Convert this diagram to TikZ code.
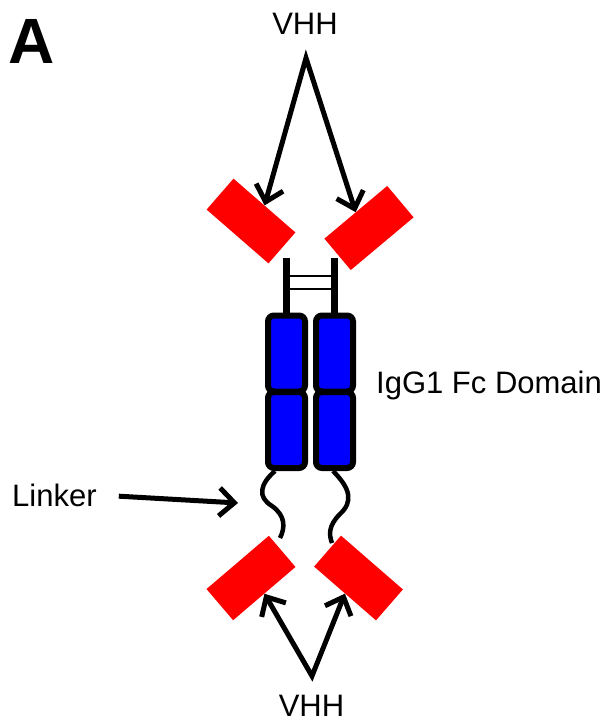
\documentclass[tikz,border=0pt]{standalone}
\usepackage{fontspec}
\setmainfont{Liberation Sans}
\usetikzlibrary{arrows.meta,positioning}
\definecolor{vhhred}{RGB}{255,0,0}
\definecolor{fcblue}{RGB}{0,0,255}

\begin{document}
\begin{tikzpicture}[x=1pt,y=-1pt,on grid]
	\tikzstyle{vhh}=[fill=vhhred,rectangle,minimum width=82pt,minimum height=41pt,inner sep=0pt]
	\tikzstyle{fc}=[fill=fcblue,draw=black,line width=6pt,rectangle,rounded corners=6pt,minimum width=37pt,minimum height=76pt,inner sep=0pt]
	\tikzstyle{textlabel}=[font=\fontsize{31}{36}\selectfont,inner sep=0pt]
	\tikzstyle{pointer}=[line width=5pt,>={Straight Barb[length=15pt,width=28pt]}]
	\tikzstyle{hinge}=[line width=7pt]
	\tikzstyle{bridge}=[line width=1.5pt]
	\tikzstyle{linker}=[line width=4.5pt]

	\useasboundingbox (0,0) rectangle (611,723);

	%
	% labels
	%
	\node [font=\bfseries\fontsize{64}{70}\selectfont,inner sep=0pt,anchor=base west] (panel) at (8,63) {A};
	\node [textlabel,anchor=base] (vhhTop) at (305,34) {VHH};
	\node [textlabel,anchor=base] (vhhBot) at (311.5,716) {VHH};
	\node [textlabel,anchor=base west] (fcLabel) at (376,393) {IgG1 Fc Domain};
	\node [textlabel,anchor=base west] (linkerLabel) at (12,506) {Linker};

	%
	% Fc domain
	%
	\node [fc] (fcTL) at (286.5,353.5) {};
	\node [fc,below=76.5pt of fcTL] (fcBL) {};
	\node [fc,right=48pt of fcTL] (fcTR) {};
	\node [fc,below=76.5pt of fcTR] (fcBR) {};

	%
	% hinge
	%
	\coordinate (hingeL) at (286.5,258);
	\coordinate (hingeR) at (334.5,258);
	\draw [hinge] (hingeL) -- (fcTL.north);
	\draw [hinge] (hingeR) -- (fcTR.north);
	\draw [bridge] ([yshift=-18pt]hingeL) -- ([yshift=-18pt]hingeR);
	\draw [bridge] ([yshift=-31pt]hingeL) -- ([yshift=-31pt]hingeR);

	%
	% VHH domains
	%
	\node [vhh,rotate=-41] (vhhTL) at (251,221) {};
	\node [vhh,rotate=40] (vhhTR) at (369,228) {};
	\node [vhh,rotate=40.5] (vhhBL) at (251,578) {};
	\node [vhh,rotate=-41] (vhhBR) at (358.5,578) {};

	%
	% linkers
	%
	\coordinate (linkL) at (280,538);
	\coordinate (linkR) at (332,543);
	\draw [linker] ([xshift=-11.5pt]fcBL.south) .. controls (260,484) and (257,497) .. (272,506)
		.. controls (286,516) and (285,528) .. (linkL);
	\draw [linker] ([xshift=-1.5pt]fcBR.south) .. controls (351,489) and (353,502) .. (340,514)
		.. controls (328,526) and (329,535) .. (linkR);

	%
	% pointers
	%
	\coordinate (topApex) at (306,58);
	\coordinate (botApex) at (312,676);
	\coordinate (linkerTip) at (238,503);
	\begin{scope}[pointer]
		\draw [<->] (vhhTL.north) -- (topApex) -- (vhhTR.north);
		\draw [<->] (vhhBL.south) -- (botApex) -- (vhhBR.south);
		\draw [->,shorten <=22pt] (linkerLabel.east) -- (linkerTip);
	\end{scope}

\end{tikzpicture}
\end{document}
